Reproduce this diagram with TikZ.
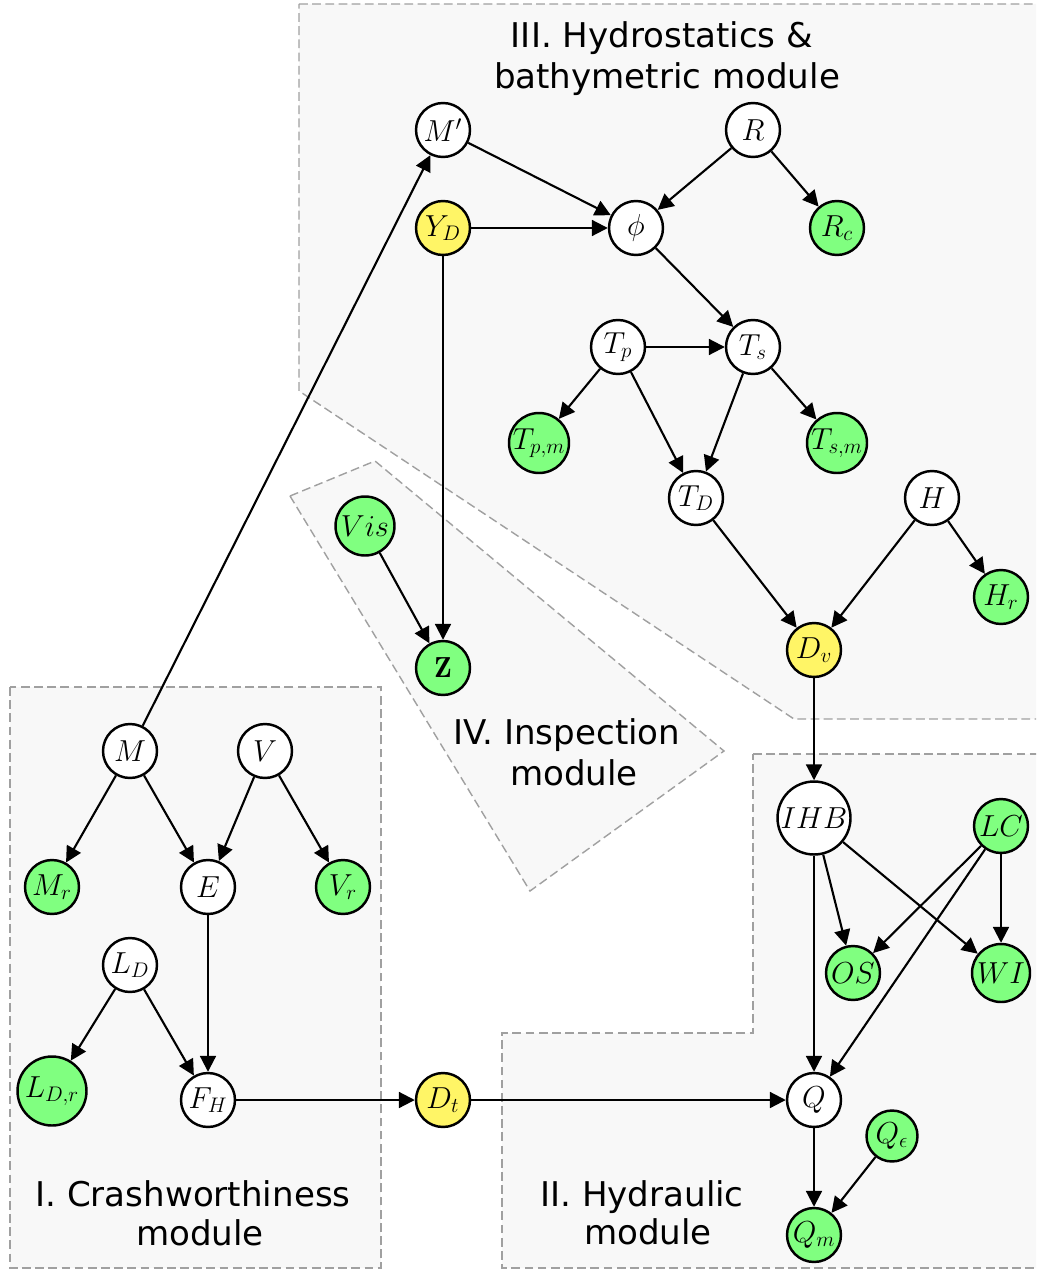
\documentclass[tikz,border=0pt]{standalone}
\usepackage{fontspec}
\newfontfamily\labelfont{DejaVu Sans}
\usetikzlibrary{arrows.meta}
\definecolor{obsgreen}{HTML}{80FF80}
\definecolor{decyellow}{HTML}{FFF566}
\definecolor{modfill}{HTML}{F8F8F8}
\definecolor{modline}{HTML}{A0A0A0}

\begin{document}
\begin{tikzpicture}[x=0.02cm,y=-0.02cm,
  var/.style={circle,draw=black,line width=1.4pt,fill=white,minimum size=1.08cm,
    inner sep=0pt,font=\fontsize{16.5}{19}\selectfont},
  obs/.style={var,fill=obsgreen},
  dec/.style={var,fill=decyellow},
  module/.style={fill=modfill,draw=modline,line width=0.8pt,dash pattern=on 5pt off 2.5pt},
  modlabel/.style={anchor=base,inner sep=0pt,font={\labelfont\fontsize{19.4}{23}\selectfont}},
  link/.style={-{Triangle[length=9pt,width=9pt]},line width=1.2pt},
]
\useasboundingbox (0,0) rectangle (1036,1270);
\clip (0,0) rectangle (1036,1270);

% module areas
\draw[module] (299,4) -- (1045,4) -- (1045,719) -- (794,719) -- (299,391) -- cycle;
\draw[module] (290,496) -- (375,461) -- (724,751) -- (530,891) -- cycle;
\draw[module] (10,687) rectangle (381,1268);
\draw[module] (753,754) -- (1045,754) -- (1045,1268) -- (502,1268) -- (502,1033) -- (753,1033) -- cycle;

% module titles
\node[modlabel] (t3a) at (662,48) {III. Hydrostatics \&};
\node[modlabel] (t3b) at (667,89) {bathymetric module};
\node[modlabel] (t4a) at (567,744) {IV. Inspection};
\node[modlabel] (t4b) at (574,785) {module};
\node[modlabel] (t1a) at (193,1206) {I. Crashworthiness};
\node[modlabel] (t1b) at (200,1245) {module};
\node[modlabel] (t2a) at (642,1206) {II. Hydraulic};
\node[modlabel] (t2b) at (648,1244) {module};

% hydrostatics & bathymetry
\node[var] (Mp) at (443,130) {$M'$};
\node[var] (R) at (753,130) {$R$};
\node[dec] (YD) at (443,228) {$Y_D$};
\node[var] (phi) at (636,228) {$\phi$};
\node[obs] (Rc) at (837,228) {$R_c$};
\node[var] (Tp) at (618,347) {$T_p$};
\node[var] (Ts) at (753,347) {$T_s$};
\node[obs,minimum size=1.2cm] (Tpm) at (539,443) {$T_{p,m}$};
\node[obs,minimum size=1.2cm] (Tsm) at (837,443) {$T_{s,m}$};
\node[var] (TD) at (696,498) {$T_D$};
\node[var] (H) at (932,498) {$H$};
\node[obs] (Hr) at (1001,597) {$H_r$};
\node[dec] (Dv) at (814,650) {$D_v$};

% inspection
\node[obs,minimum size=1.18cm] (Vis) at (365,526) {$Vis$};
\node[obs] (Z) at (443,668) {$\mathbf{Z}$};

% crashworthiness
\node[var] (M) at (130,751) {$M$};
\node[var] (V) at (265,751) {$V$};
\node[obs] (Mr) at (52,887) {$M_r$};
\node[var] (E) at (208,887) {$E$};
\node[obs] (Vr) at (343,887) {$V_r$};
\node[var] (LD) at (130,965) {$L_D$};
\node[obs,minimum size=1.38cm] (LDr) at (52,1091) {$L_{D,r}$};
\node[var] (FH) at (208,1100) {$F_H$};
\node[dec] (Dt) at (443,1100) {$D_t$};

% hydraulic
\node[var,minimum size=1.46cm] (IHB) at (814,818) {$IHB$};
\node[obs] (LC) at (1001,826) {$LC$};
\node[obs] (OS) at (853,973) {$OS$};
\node[obs,minimum size=1.16cm] (WI) at (1001,973) {$WI$};
\node[var] (Q) at (814,1100) {$Q$};
\node[obs,minimum size=1.02cm] (Qe) at (892,1136) {$Q_\epsilon$};
\node[obs] (Qm) at (814,1235) {$Q_m$};

% dependencies
\draw[link] (M) -- (Mp);
\draw[link] (Mp) -- (phi);
\draw[link] (YD) -- (phi);
\draw[link] (R) -- (phi);
\draw[link] (R) -- (Rc);
\draw[link] (phi) -- (Ts);
\draw[link] (Tp) -- (Ts);
\draw[link] (Tp) -- (Tpm);
\draw[link] (Tp) -- (TD);
\draw[link] (Ts) -- (TD);
\draw[link] (Ts) -- (Tsm);
\draw[link] (TD) -- (Dv);
\draw[link] (H) -- (Dv);
\draw[link] (H) -- (Hr);
\draw[link] (YD) -- (Z);
\draw[link] (Vis) -- (Z);
\draw[link] (Dv) -- (IHB);
\draw[link] (IHB) -- (Q);
\draw[link] (IHB) -- (OS);
\draw[link] (IHB) -- (WI);
\draw[link] (LC) -- (OS);
\draw[link] (LC) -- (Q);
\draw[link] (LC) -- (WI);
\draw[link] (Q) -- (Qm);
\draw[link] (Qe) -- (Qm);
\draw[link] (M) -- (Mr);
\draw[link] (M) -- (E);
\draw[link] (V) -- (E);
\draw[link] (V) -- (Vr);
\draw[link] (E) -- (FH);
\draw[link] (LD) -- (LDr);
\draw[link] (LD) -- (FH);
\draw[link] (FH) -- (Dt);
\draw[link] (Dt) -- (Q);
\end{tikzpicture}
\end{document}
